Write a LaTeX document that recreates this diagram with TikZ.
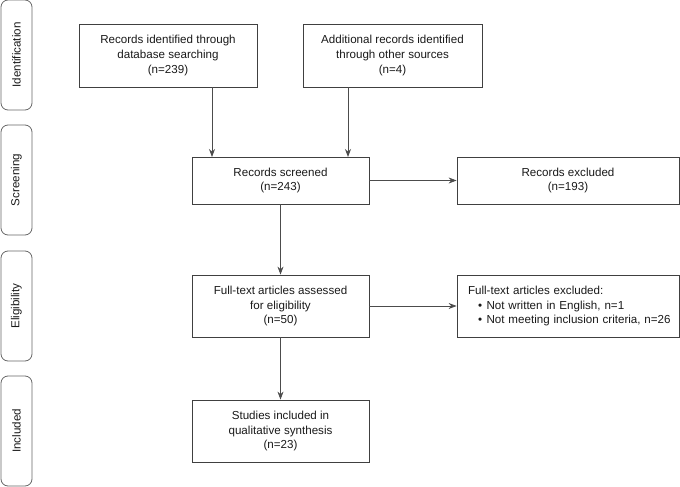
\documentclass[tikz,border=0pt]{standalone}
\usepackage{fontspec}
\setmainfont{Liberation Sans}
\usetikzlibrary{arrows.meta}
\begin{document}
\begin{tikzpicture}[x=1pt,y=-1pt,
  every node/.style={font=\fontsize{11.6}{14.6}\selectfont, text=black!90},
  box/.style={draw=black!75, line width=0.8pt, align=center, inner sep=0pt},
  stage/.style={draw=black!60, line width=0.8pt, rounded corners=7pt, inner sep=0pt, minimum width=31pt, minimum height=110pt},
  arr/.style={draw=black!70, line width=0.8pt, -{Stealth[length=8pt,width=6pt]}}]
\useasboundingbox (0,0) rectangle (680,487);
% stage boxes
\node[stage] (s1) at (16.5,55) {};
\node[rotate=90] (t1) at (s1.center) {Identification};
\node[stage] (s2) at (16.5,180) {};
\node[rotate=90] (t2) at (s2.center) {Screening};
\node[stage] (s3) at (16.5,306) {};
\node[rotate=90] (t3) at (s3.center) {Eligibility};
\node[stage] (s4) at (16.5,431) {};
\node[rotate=90] (t4) at (s4.center) {Included};
% main boxes
\node[box, minimum width=178pt, minimum height=63pt] (a) at (168,55.5) {Records identified through\\database searching\\(n=239)};
\node[box, minimum width=179pt, minimum height=63pt] (b) at (392.5,55.5) {Additional records identified\\through other sources\\(n=4)};
\node[box, minimum width=177pt, minimum height=47pt] (c) at (280.5,180.5) {Records screened\\(n=243)};
\node[box, minimum width=222pt, minimum height=47pt] (d) at (568,180.5) {Records excluded\\(n=193)};
\node[box, minimum width=177pt, minimum height=62pt] (e) at (280.5,306) {Full-text articles assessed\\for eligibility\\(n=50)};
\node[box, minimum width=222pt, minimum height=62pt, align=left, text width=214pt] (f) at (568,306) {\hspace*{7pt}Full-text articles excluded:\\\hspace*{17pt}\textbullet\hspace{4.5pt}Not written in English, n=1\\\hspace*{17pt}\textbullet\hspace{4.5pt}Not meeting inclusion criteria, n=26};
\node[box, minimum width=177pt, minimum height=62pt] (g) at (280.5,431) {Studies included in\\qualitative synthesis\\(n=23)};
% arrows
\coordinate (ca) at (212,157);
\coordinate (cb) at (348,157);
\draw[arr] (a.south -| ca) -- (ca);
\draw[arr] (b.south -| cb) -- (cb);
\draw[arr] (c.east) -- (d.west);
\draw[arr] (c.south) -- (e.north);
\draw[arr] (e.east) -- (f.west);
\draw[arr] (e.south) -- (g.north);
\end{tikzpicture}
\end{document}
